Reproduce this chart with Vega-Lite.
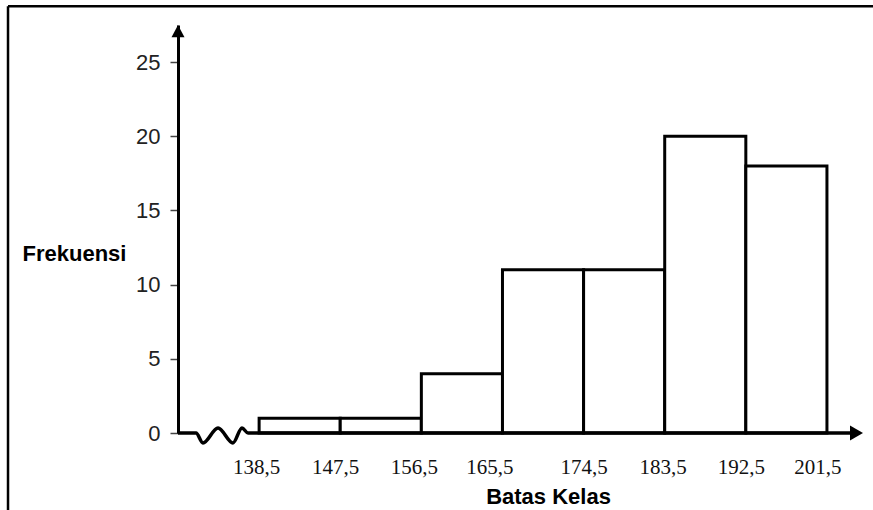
{
  "$schema": "https://vega.github.io/schema/vega-lite/v6.json",
  "autosize": "none",
  "width": 685,
  "height": 408,
  "padding": {"left": 178, "top": 25, "right": 10, "bottom": 77},
  "background": "white",
  "config": {"view": {"stroke": null}},
  "datasets": {
    "kelas": [
      {"bawah": 138.5, "atas": 147.5, "frekuensi": 1},
      {"bawah": 147.5, "atas": 156.5, "frekuensi": 1},
      {"bawah": 156.5, "atas": 165.5, "frekuensi": 4},
      {"bawah": 165.5, "atas": 174.5, "frekuensi": 11},
      {"bawah": 174.5, "atas": 183.5, "frekuensi": 11},
      {"bawah": 183.5, "atas": 192.5, "frekuensi": 20},
      {"bawah": 192.5, "atas": 201.5, "frekuensi": 18}
    ],
    "sumbu": [
      {"i": 0, "x": 129.5, "y": 0},
      {"i": 1, "x": 131.5, "y": 0},
      {"i": 2, "x": 132.27, "y": -0.67},
      {"i": 3, "x": 133.94, "y": 0.34},
      {"i": 4, "x": 135.6, "y": -0.67},
      {"i": 5, "x": 136.6, "y": 0.34},
      {"i": 6, "x": 137.27, "y": 0},
      {"i": 7, "x": 138.5, "y": 0},
      {"i": 8, "x": 204.8, "y": 0}
    ],
    "satu": [{}]
  },
  "layer": [
    {
      "data": {"name": "kelas"},
      "mark": {"type": "rect", "fill": "white", "stroke": "black", "strokeWidth": 3},
      "encoding": {
        "x": {
          "field": "bawah",
          "type": "quantitative",
          "scale": {"domain": [129.5, 205.5], "nice": false, "zero": false},
          "axis": {
            "values": [138.5, 147.5, 156.5, 165.5, 174.5, 183.5, 192.5, 201.5],
            "labelExpr": "replace(format(datum.value, '.1f'), '.', ',')",
            "domain": false,
            "ticks": false,
            "tickSize": 0,
            "grid": false,
            "labelFont": "Liberation Serif",
            "labelFontSize": 21,
            "labelColor": "#111",
            "labelBaseline": "alphabetic",
            "labelPadding": 40,
            "labelFlush": false,
            "labelOverlap": false,
            "labelOffset": {"expr": "datum.value == 138.5 ? -3 : datum.value == 147.5 ? -5 : datum.value == 156.5 ? -7.5 : datum.value == 165.5 ? -13 : datum.value == 183.5 ? -2 : datum.value == 192.5 ? -5 : datum.value == 201.5 ? -9.5 : 0"},
            "title": "Batas Kelas",
            "titleFont": "Liberation Sans",
            "titleFontWeight": "bold",
            "titleFontSize": 22,
            "titleColor": "black",
            "titleX": 370,
            "titleY": 70,
            "titleAlign": "center",
            "titleBaseline": "alphabetic"
          }
        },
        "x2": {"field": "atas"},
        "y": {
          "field": "frekuensi",
          "type": "quantitative",
          "scale": {"domain": [0, 27.5], "nice": false, "zero": false},
          "axis": {
            "values": [0, 5, 10, 15, 20, 25],
            "grid": false,
            "domain": true,
            "domainColor": "black",
            "domainWidth": 3,
            "ticks": true,
            "tickSize": 8,
            "tickWidth": 1.5,
            "tickColor": "#444",
            "labelFont": "Liberation Sans",
            "labelFontSize": 22,
            "labelColor": "#222",
            "labelPadding": 10,
            "labelFlush": false,
            "title": "Frekuensi",
            "titleAngle": 0,
            "titleFont": "Liberation Sans",
            "titleFontWeight": "bold",
            "titleFontSize": 22,
            "titleColor": "black",
            "titleX": -156,
            "titleY": 228,
            "titleAlign": "left",
            "titleBaseline": "middle"
          }
        },
        "y2": {"datum": 0}
      }
    },
    {
      "data": {"name": "sumbu"},
      "mark": {"type": "line", "interpolate": "monotone", "color": "black", "strokeWidth": 3.5},
      "encoding": {
        "x": {"field": "x", "type": "quantitative"},
        "y": {"field": "y", "type": "quantitative"},
        "order": {"field": "i"}
      }
    },
    {
      "data": {"name": "satu"},
      "mark": {"type": "point", "shape": "M-1,-1.15L1,0L-1,1.15Z", "size": 169, "filled": true, "color": "black", "opacity": 1},
      "encoding": {
        "x": {"datum": 204.78, "type": "quantitative"},
        "y": {"datum": 0, "type": "quantitative"}
      }
    },
    {
      "data": {"name": "satu"},
      "mark": {"type": "point", "shape": "M0,-0.95L1,0.95L-1,0.95Z", "size": 169, "filled": true, "color": "black", "opacity": 1},
      "encoding": {
        "x": {"datum": 129.5, "type": "quantitative"},
        "y": {"datum": 27.09, "type": "quantitative"}
      }
    },
    {
      "data": {"name": "satu"},
      "mark": {"type": "rule", "color": "black", "strokeWidth": 2.5},
      "encoding": {
        "x": {"datum": 110.64, "type": "quantitative"},
        "y": {"datum": 28.77, "type": "quantitative"},
        "y2": {"datum": -7}
      }
    },
    {
      "data": {"name": "satu"},
      "mark": {"type": "rule", "color": "black", "strokeWidth": 2.5},
      "encoding": {
        "x": {"datum": 110.64, "type": "quantitative"},
        "x2": {"datum": 210},
        "y": {"datum": 28.77, "type": "quantitative"}
      }
    }
  ]
}
